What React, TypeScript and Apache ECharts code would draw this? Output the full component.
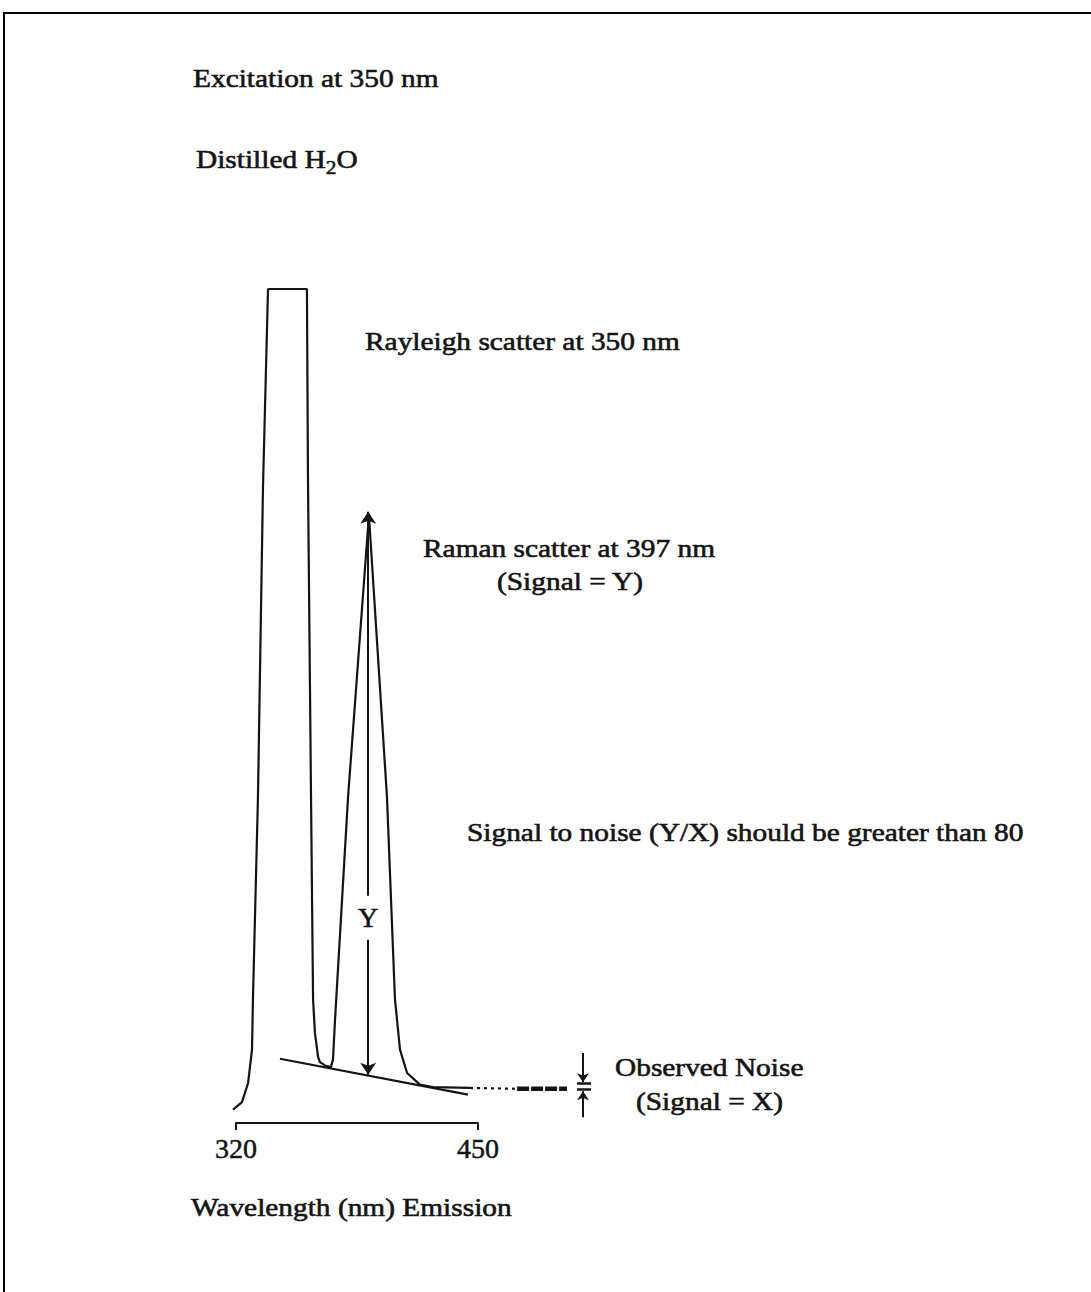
import React, { useEffect, useRef } from "react";
import * as echarts from "echarts";

// Emission spectrum of distilled water (excitation 350 nm)
const spectrumNm = [
  318.4, 323.2, 326.5, 328.6, 329.1, 331.8, 334.5, 337.2, 358.1, 358.7, 360.3,
  361.4, 362.4, 364.1, 365.1, 367.8, 371.0, 372.1, 373.2, 380.2, 391.4, 401.1,
  405.4, 408.1, 411.9, 418.8, 425.8, 445.7,
];
const spectrumIntensity = [
  1.6, 2.5, 4.8, 8.8, 14.8, 39.1, 76.3, 100, 100, 76.3, 39.1,
  14.8, 10.8, 7.9, 7.3, 6.9, 6.7, 7.6, 12.4, 39.1, 72.9, 39.1,
  14.8, 8.8, 6.0, 4.6, 4.3, 4.2,
];
// drawn baseline under the Raman peak
const baselineNm = [343.6, 444.6];
const baselineIntensity = [7.7, 3.4];
// dotted continuation and the noisy tail
const dottedNm = [445.7, 471.0];
const dottedIntensity = [4.2, 4.1];
const noiseBandNm = [471.0, 497.8];
const noiseBandIntensity = [4.1, 4.1];
// signal (Y) arrow
const signalArrowNm = 391.0;
const signalArrowRange = [5.8, 73.3];
const signalLabelIntensity = 24.6;
// noise (X) marker
const noiseMarkerNm = 506.4;
const noiseTickNm = [503.2, 510.7];
const noiseLevels = [4.8, 4.1];
const noiseArrowDown = [8.4, 4.9];
const noiseArrowUp = [0.7, 3.8];
// axis
const axisTicks = [320, 450];
const axisRange = [320, 450];
const plotRange = [310, 520];

const FONT = "'Liberation Serif', 'Times New Roman', serif";
const INK = "#141414";
const SX = 1.13;

const zip = (xs: number[], ys: number[]) => xs.map((x, i) => [x, ys[i]]);

function txt(text: string, x: number, y: number, extra: any = {}) {
  return {
    type: "text",
    x,
    y,
    scaleX: SX,
    style: {
      text,
      fontSize: 26,
      fontFamily: FONT,
      fill: INK,
      stroke: INK,
      lineWidth: 0.6,
      textAlign: "left",
      textVerticalAlign: "middle",
      ...extra,
    },
  };
}

export default function App() {
  const ref = useRef<HTMLDivElement>(null);
  useEffect(() => {
    if (!ref.current) return;
    const chart = echarts.init(ref.current, undefined, { renderer: "svg" });
    // scale: 130 nm over 242 px
    const pxPerNm = 242 / (axisRange[1] - axisRange[0]);
    const axisLeft = 236;
    const plotLeft = axisLeft - (axisRange[0] - plotRange[0]) * pxPerNm;
    const plotRight = axisLeft + (plotRange[1] - axisRange[0]) * pxPerNm;
    const line = (data: number[][], ls: any) => ({
      type: "line",
      xAxisIndex: 1,
      yAxisIndex: 1,
      data,
      symbol: "none",
      clip: false,
      lineStyle: { color: INK, width: 2.2, ...ls },
      z: 3,
    });
    const option: any = {
      animation: false,
      backgroundColor: "#ffffff",
      grid: [
        { left: axisLeft, width: 242, top: 289, bottom: 169 },
        { left: plotLeft, width: plotRight - plotLeft, top: 289, bottom: 169 },
      ],
      xAxis: [
        {
          type: "value",
          gridIndex: 0,
          min: axisRange[0],
          max: axisRange[1],
          axisLine: { show: true, lineStyle: { color: INK, width: 2 } },
          axisTick: {
            show: true,
            customValues: axisTicks,
            length: 7,
            lineStyle: { color: INK, width: 2 },
          },
          axisLabel: {
            customValues: axisTicks,
            fontSize: 28,
            fontFamily: FONT,
            color: INK,
            textBorderColor: INK,
            textBorderWidth: 0.5,
            margin: 11,
          },
          splitLine: { show: false },
        },
        { type: "value", gridIndex: 1, min: plotRange[0], max: plotRange[1], show: false },
      ],
      yAxis: [
        { type: "value", gridIndex: 0, min: 0, max: 100, show: false },
        { type: "value", gridIndex: 1, min: 0, max: 100, show: false },
      ],
      series: [
        line(zip(spectrumNm, spectrumIntensity), {}),
        line(zip(baselineNm, baselineIntensity), {}),
        line(zip(dottedNm, dottedIntensity), { type: [3, 4] }),
        line(zip(noiseBandNm, noiseBandIntensity), { width: 4.5, type: [12, 2] }),
        {
          type: "lines",
          coordinateSystem: "cartesian2d",
          xAxisIndex: 1,
          yAxisIndex: 1,
          clip: false,
          symbol: ["arrow", "arrow"],
          symbolSize: 12,
          lineStyle: { color: INK, width: 2, opacity: 1, curveness: 0 },
          data: [
            {
              coords: [
                [signalArrowNm, signalArrowRange[0]],
                [signalArrowNm, signalArrowRange[1]],
              ],
            },
          ],
          z: 4,
        },
        {
          type: "lines",
          coordinateSystem: "cartesian2d",
          xAxisIndex: 1,
          yAxisIndex: 1,
          clip: false,
          symbol: ["none", "arrow"],
          symbolSize: 9,
          lineStyle: { color: INK, width: 2, opacity: 1, curveness: 0 },
          data: [
            { coords: [[noiseMarkerNm, noiseArrowDown[0]], [noiseMarkerNm, noiseArrowDown[1]]] },
            { coords: [[noiseMarkerNm, noiseArrowUp[0]], [noiseMarkerNm, noiseArrowUp[1]]] },
          ],
          z: 4,
        },
        {
          type: "lines",
          coordinateSystem: "cartesian2d",
          xAxisIndex: 1,
          yAxisIndex: 1,
          clip: false,
          symbol: "none",
          lineStyle: { color: INK, width: 2.5, opacity: 1, curveness: 0 },
          data: noiseLevels.map((lv) => ({
            coords: [[noiseTickNm[0], lv], [noiseTickNm[1], lv]],
          })),
          z: 4,
        },
        {
          type: "scatter",
          xAxisIndex: 1,
          yAxisIndex: 1,
          data: [[signalArrowNm, signalLabelIntensity]],
          symbolSize: 1,
          itemStyle: { color: "#ffffff", opacity: 1 },
          label: {
            show: true,
            position: "inside",
            formatter: "Y",
            fontSize: 28,
            fontFamily: FONT,
            color: INK,
            opacity: 1,
            textBorderColor: INK,
            textBorderWidth: 0.6,
            backgroundColor: "#ffffff",
            padding: [8, 3],
          },
          emphasis: { disabled: true },
          z: 10,
        },
      ],
      graphic: [
        { type: "line", shape: { x1: 4, y1: 13, x2: 1091, y2: 13 }, style: { stroke: "#000", lineWidth: 2 } },
        { type: "line", shape: { x1: 4, y1: 12, x2: 4, y2: 1292 }, style: { stroke: "#000", lineWidth: 2 } },
        txt("Excitation at 350 nm", 193, 78),
        {
          type: "text",
          x: 196,
          y: 159,
          scaleX: SX,
          style: {
            text: "{a|Distilled H}{s|2}{a|O}",
            fontFamily: FONT,
            fill: INK,
            textAlign: "left",
            textVerticalAlign: "middle",
            rich: {
              a: { fontSize: 26, fontFamily: FONT, fill: INK, stroke: INK, lineWidth: 0.6, lineHeight: 36, verticalAlign: "middle" },
              s: { fontSize: 19, fontFamily: FONT, fill: INK, stroke: INK, lineWidth: 0.5, lineHeight: 16, verticalAlign: "bottom" },
            },
          },
        },
        txt("Rayleigh scatter at 350 nm", 365, 341),
        txt("Raman scatter at 397 nm", 423, 548),
        txt("(Signal = Y)", 497, 581),
        txt("Signal to noise (Y/X) should be greater than 80", 467, 832),
        txt("Observed Noise", 615, 1067),
        txt("(Signal = X)", 636, 1101),
        txt("Wavelength (nm) Emission", 191, 1207),
      ],
    };
    chart.setOption(option);
    return () => chart.dispose();
  }, []);
  return (
    <div
      ref={ref}
      style={{ position: "absolute", left: 0, top: 0, width: 1091, height: 1292, background: "#fff" }}
    />
  );
}
